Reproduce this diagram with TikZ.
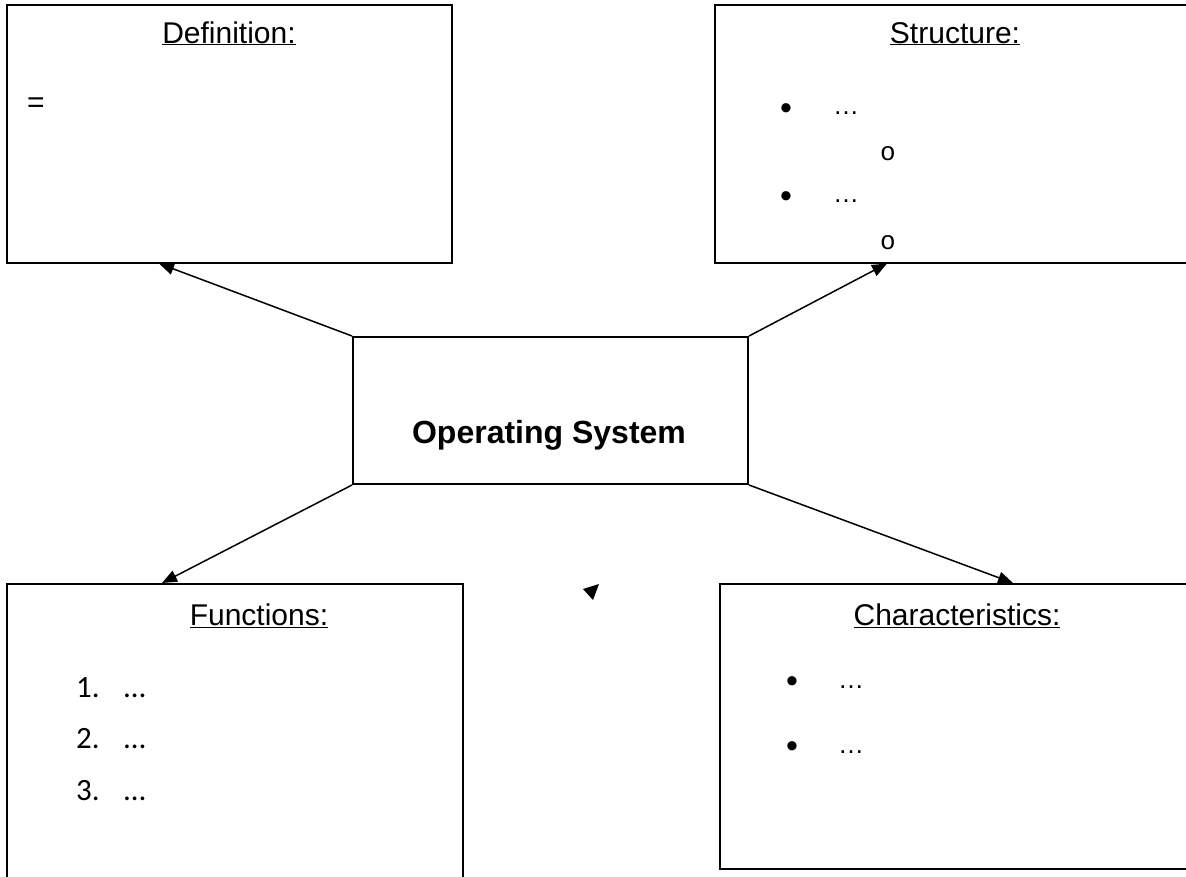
\documentclass[tikz,border=0pt]{standalone}
\usepackage{fontspec}
\setmainfont{Liberation Sans}
\newfontfamily\calfont{Carlito}
\newfontfamily\monofont{Liberation Mono}
\usetikzlibrary{arrows.meta}
\tikzset{
  box/.style={draw, line width=2pt, inner sep=0pt},
  title/.style={font=\fontsize{30}{36}\selectfont, anchor=base},
  item/.style={font=\fontsize{26}{30}\selectfont, anchor=base west, inner sep=0pt},
  bul/.style={font=\fontsize{34}{38}\selectfont, anchor=base west, inner sep=0pt},
  circ/.style={font=\monofont\fontsize{26}{30}\selectfont, anchor=base west, inner sep=0pt},
  num/.style={font=\calfont\fontsize{31}{36}\selectfont, anchor=base west, inner sep=0pt},
  conn/.style={line width=1.5pt, -{Triangle[length=15pt,width=12pt]}},
}
\begin{document}
\begin{tikzpicture}[x=1pt,y=-1pt]
\useasboundingbox (0,0) rectangle (1186,876);
% boxes
\node[box, minimum width=445pt, minimum height=258pt] (def) at (229.5,133.5) {};
\node[box, minimum width=500pt, minimum height=258pt] (str) at (965,133.5) {};
\node[box, minimum width=456pt, minimum height=320pt] (fun) at (235,744) {};
\node[box, minimum width=480pt, minimum height=285pt] (cha) at (960,726.5) {};
\node[box, minimum width=395pt, minimum height=147pt] (os) at (550.5,410.5) {};
% center label
\node[font=\bfseries\fontsize{32}{36}\selectfont, anchor=base] (ostext) at (549,443) {Operating System};
% titles
\node[title] (deft) at (229,43) {\underline{Definition:}};
\node[title] (strt) at (955,43) {\underline{Structure:}};
\node[title] (funt) at (259,625) {\underline{Functions:}};
\node[title] (chat) at (957,625) {\underline{Characteristics:}};
% definition
\node[item, font=\fontsize{30}{34}\selectfont] (eq) at (27,112) {=};
% structure
\node[bul] (sb1) at (780,119) {•};
\node[item] (sd1) at (833,114) {…};
\node[circ] (sc1) at (880,160) {o};
\node[bul] (sb2) at (780,207) {•};
\node[item] (sd2) at (833,202) {…};
\node[circ] (sc2) at (880,249) {o};
% functions
\node[num] (f1) at (76,697) {1.};
\node[num] (f1d) at (124,697) {…};
\node[num] (f2) at (76,748) {2.};
\node[num] (f2d) at (124,748) {…};
\node[num] (f3) at (76,800) {3.};
\node[num] (f3d) at (124,800) {…};
% characteristics
\node[bul] (cb1) at (786,692) {•};
\node[item] (cd1) at (838,688) {…};
\node[bul] (cb2) at (786,757) {•};
\node[item] (cd2) at (838,753) {…};
% connectors
\draw[conn] (os.north west) -- ([xshift=153pt]def.south west);
\draw[conn] (os.north east) -- ([xshift=173pt]str.south west);
\draw[conn] (os.south west) -- ([xshift=156pt]fun.north west);
\draw[conn] (os.south east) -- ([xshift=294pt]cha.north west);
% stray arrowhead
\fill (583,589) -- (599,584) -- (593,600) -- cycle;
\end{tikzpicture}
\end{document}
